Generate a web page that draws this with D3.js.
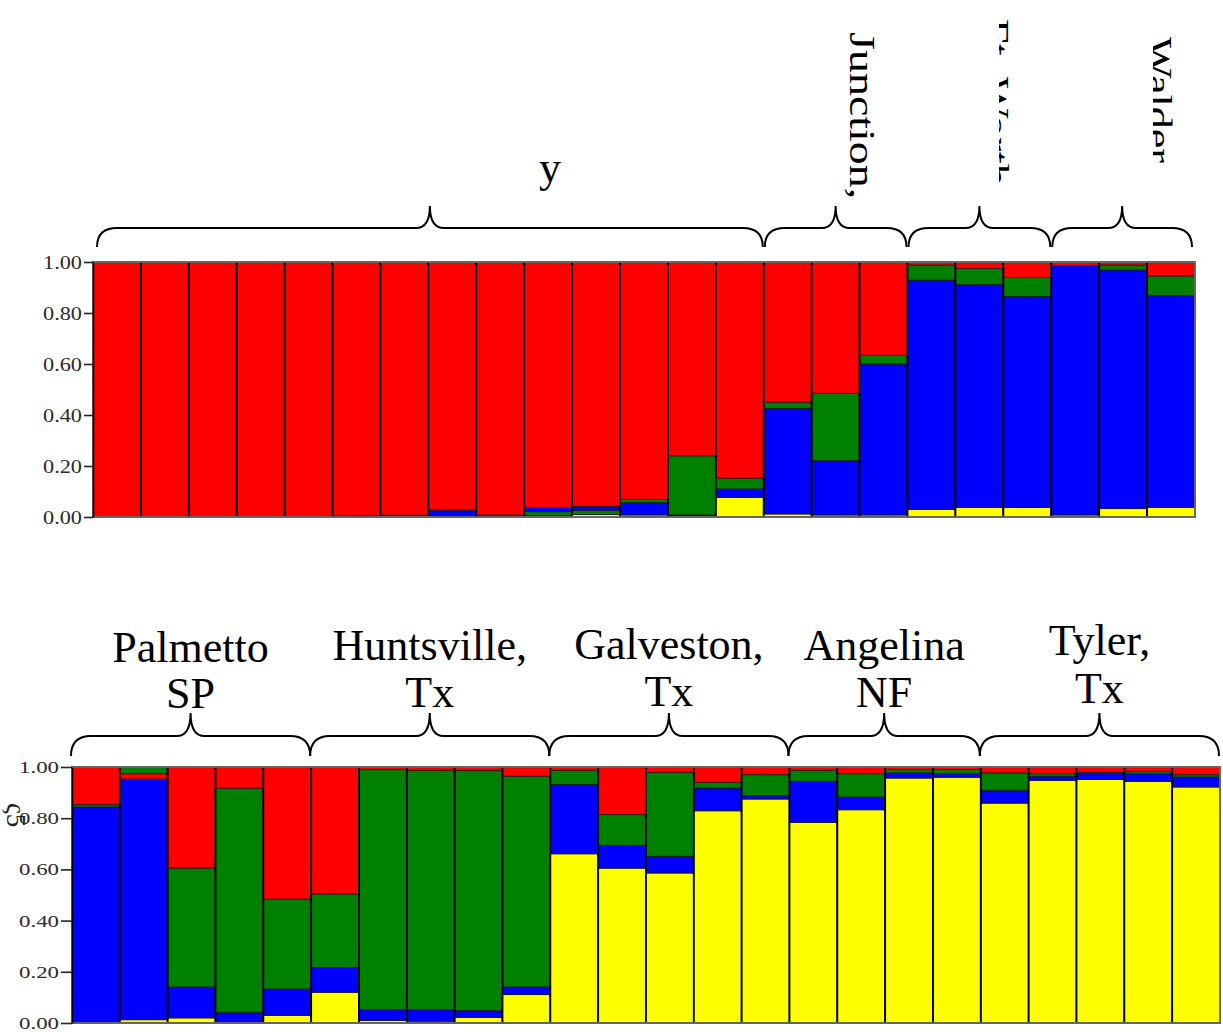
<!DOCTYPE html>
<html>
<head>
<meta charset="utf-8">
<script src="https://cdn.jsdelivr.net/npm/d3@7/dist/d3.min.js"></script>
<style>
  html, body { margin: 0; padding: 0; background: #ffffff; }
  svg { display: block; }
  text { font-family: "Liberation Serif", "Times New Roman", serif; }
</style>
</head>
<body>
<svg id="chart" width="1223" height="1032"></svg>
<script>
// ---------- DATA ----------
const tickValues = [0, 0.2, 0.4, 0.6, 0.8, 1.0];
const tickLabels = ["0.00", "0.20", "0.40", "0.60", "0.80", "1.00"];
const clusterKeys = ["Y", "B", "G", "R"];
const clusterColors = { Y: "#ffff00", B: "#0000ff", G: "#008000", R: "#ff0000" };

// Top panel (23 individuals)
const topYellow = [0,0,0,0,0,0,0,0,0,0.005,0.010,0.008,0,0.077,0.012,0.008,0.008,0.030,0.038,0.037,0.008,0.033,0.038];
const topBlue   = [0,0,0,0,0,0.006,0.007,0.027,0,0.016,0.016,0.048,0.008,0.033,0.414,0.213,0.592,0.899,0.874,0.827,0.978,0.936,0.830];
const topGreen  = [0,0,0,0,0,0,0,0,0.008,0.016,0.016,0.013,0.232,0.042,0.024,0.264,0.034,0.059,0.063,0.075,0,0.019,0.077];
const topRed    = [1,1,1,1,1,0.994,0.993,0.973,0.992,0.963,0.958,0.931,0.760,0.848,0.550,0.515,0.366,0.012,0.025,0.061,0.014,0.012,0.055];
const topOrder  = ["YBGR","YBGR","YBGR","YBGR","YBGR","YBGR","YBGR","YBGR","YBGR","YGBR","YGBR","YBGR",
                   "YBGR","YBGR","YBGR","YBGR","YBGR","YBGR","YBGR","YBGR","YBGR","YBGR","YBGR"];
const topGroups = [
  { label: "y",         start: 0,  end: 13 },
  { label: "Junction,", start: 14, end: 16 },
  { label: "Ft. Worth", start: 17, end: 19 },
  { label: "Walder",    start: 20, end: 22 }
];

// Bottom panel (24 individuals)
const botYellow = [0,0.013,0.020,0,0.030,0.120,0.010,0.007,0.022,0.111,0.661,0.605,0.586,0.829,0.875,0.784,0.833,0.957,0.960,0.859,0.948,0.951,0.944,0.922];
const botBlue   = [0.844,0.940,0.121,0.042,0.103,0.097,0.042,0.045,0.027,0.030,0.270,0.089,0.065,0.089,0.013,0.160,0.050,0.020,0.014,0.050,0.016,0.023,0.030,0.039];
const botGreen  = [0.009,0.026,0.464,0.875,0.351,0.287,0.938,0.935,0.937,0.823,0.056,0.120,0.328,0.022,0.082,0.043,0.091,0.013,0.016,0.068,0.010,0.005,0.009,0.009];
const botRed    = [0.147,0.021,0.395,0.083,0.516,0.496,0.010,0.013,0.014,0.036,0.013,0.186,0.021,0.060,0.030,0.013,0.026,0.010,0.010,0.023,0.026,0.021,0.017,0.030];
const botOrder  = ["YBGR","YBRG","YBGR","YBGR","YBGR","YBGR","YBGR","YBGR","YBGR","YBGR","YBGR","YBGR",
                   "YBGR","YBGR","YBGR","YBGR","YBGR","YBGR","YBGR","YBGR","YBGR","YBGR","YBGR","YBGR"];
const botGroups = [
  { lines: ["Palmetto", "SP"],       start: 0,  end: 4 },
  { lines: ["Huntsville,", "Tx"],    start: 5,  end: 9 },
  { lines: ["Galveston,", "Tx"],     start: 10, end: 14 },
  { lines: ["Angelina", "NF"],       start: 15, end: 18 },
  { lines: ["Tyler,", "Tx"],         start: 19, end: 23 }
];

// ---------- DRAW ----------
const svg = d3.select("#chart");

function bracePath(xa, xb, yEnd, yFlat, yTip) {
  const xt = (xa + xb) / 2, r = 20, r2 = 14;
  return `M${xa},${yEnd} Q${xa},${yFlat} ${xa + r},${yFlat} L${xt - r2},${yFlat} ` +
         `Q${xt},${yFlat} ${xt},${yTip} Q${xt},${yFlat} ${xt + r2},${yFlat} ` +
         `L${xb - r},${yFlat} Q${xb},${yFlat} ${xb},${yEnd}`;
}

function drawPanel(opt) {
  const n = opt.series.Y.length;
  const x = d3.scaleBand().domain(d3.range(n)).range([opt.x0, opt.x1]).padding(0);
  const y = d3.scaleLinear().domain([0, 1]).range([opt.y0, opt.y1]);
  const g = svg.append("g");

  d3.range(n).forEach(i => {
    const order = opt.order[i].split("");
    const total = d3.sum(clusterKeys, k => opt.series[k][i]);
    let cum = 0;
    order.forEach(k => {
      const v = opt.series[k][i] / total;
      if (v <= 0) return;
      g.append("rect")
        .attr("x", x(i)).attr("width", x.bandwidth())
        .attr("y", y(cum + v)).attr("height", y(cum) - y(cum + v))
        .attr("fill", clusterColors[k])
        .attr("stroke", "#1a1a1a").attr("stroke-width", 0.9);
      cum += v;
    });
    g.append("rect")
      .attr("x", x(i)).attr("width", x.bandwidth())
      .attr("y", y(1)).attr("height", y(0) - y(1))
      .attr("fill", "none").attr("stroke", "#000").attr("stroke-width", 1.8);
  });

  g.append("rect")
    .attr("x", opt.x0).attr("y", y(1))
    .attr("width", opt.x1 - opt.x0).attr("height", y(0) - y(1))
    .attr("fill", "none").attr("stroke", "#8c8c8c").attr("stroke-width", 1.4);

  const axis = d3.axisLeft(y).tickValues(tickValues)
    .tickFormat((d, i) => tickLabels[i]).tickSize(opt.tickLen).tickSizeOuter(0);
  const ax = g.append("g").attr("transform", `translate(${opt.x0},0)`).call(axis);
  ax.select(".domain").attr("stroke", "#000").attr("stroke-width", 1.6);
  ax.selectAll(".tick line").attr("stroke", "#222").attr("stroke-width", 1.6);
  ax.selectAll(".tick text")
    .attr("x", -(opt.tickLen + 2))
    .attr("fill", "#2a2a2a")
    .style("font-family", '"Liberation Serif", "Times New Roman", serif')
    .style("font-size", opt.tickFont + "px")
    .attr("textLength", opt.labelW).attr("lengthAdjust", "spacingAndGlyphs");

  return { x, y, g };
}

// top panel
const topPanel = drawPanel({
  series: { Y: topYellow, B: topBlue, G: topGreen, R: topRed },
  order: topOrder, x0: 93, x1: 1195, y0: 517, y1: 262,
  tickLen: 9, tickFont: 19, labelW: 39
});

const defs = svg.append("defs");
defs.append("clipPath").attr("id", "clipFW").append("rect")
  .attr("x", 999).attr("y", 0).attr("width", 40).attr("height", 200);
defs.append("clipPath").attr("id", "clipWa").append("rect")
  .attr("x", 1153).attr("y", 0).attr("width", 40).attr("height", 200);

topGroups.forEach((gr, gi) => {
  const xa = topPanel.x(gr.start) + (gi === 0 ? 4 : 1);
  const xb = topPanel.x(gr.end) + topPanel.x.bandwidth() - (gi === topGroups.length - 1 ? 3 : 1);
  svg.append("path").attr("d", bracePath(xa, xb, 247, 228, 206))
    .attr("fill", "none").attr("stroke", "#000").attr("stroke-width", 2);
});
svg.append("text").attr("x", 550).attr("y", 182)
  .attr("text-anchor", "middle").style("font-size", "44px").text(topGroups[0].label);
svg.append("text")
  .attr("transform", "translate(850,32) rotate(90) scale(1,0.8)")
  .style("font-size", "46px").text(topGroups[1].label);
svg.append("g").attr("clip-path", "url(#clipFW)")
  .append("text")
  .attr("transform", "translate(984,19) rotate(90) scale(1,0.8)")
  .style("font-size", "44px").text(topGroups[2].label);
svg.append("g").attr("clip-path", "url(#clipWa)")
  .append("text")
  .attr("transform", "translate(1147,37) rotate(90) scale(1,0.8)")
  .style("font-size", "44px").text(topGroups[3].label);

// bottom panel
const botPanel = drawPanel({
  series: { Y: botYellow, B: botBlue, G: botGreen, R: botRed },
  order: botOrder, x0: 72, x1: 1220, y0: 1023, y1: 767,
  tickLen: 11, tickFont: 17, labelW: 40
});

const botBase = [[662, 708], [660, 707], [659, 706], [660, 707], [655, 703]];
botGroups.forEach((gr, gi) => {
  const xa = botPanel.x(gr.start) - 1;
  const xb = botPanel.x(gr.end) + botPanel.x.bandwidth() - 1;
  svg.append("path").attr("d", bracePath(xa, xb, 756, 736, 713))
    .attr("fill", "none").attr("stroke", "#000").attr("stroke-width", 2);
  const cx = (xa + xb) / 2;
  gr.lines.forEach((ln, li) => {
    svg.append("text").attr("x", cx).attr("y", botBase[gi][li])
      .attr("text-anchor", "middle").style("font-size", "44px").text(ln);
  });
});

// partially hidden stray glyphs left of the lower axis
svg.append("text").attr("transform", "translate(7,803) rotate(90)")
  .style("font-size", "27px").attr("fill", "#222").text("ς5");
</script>
</body>
</html>
